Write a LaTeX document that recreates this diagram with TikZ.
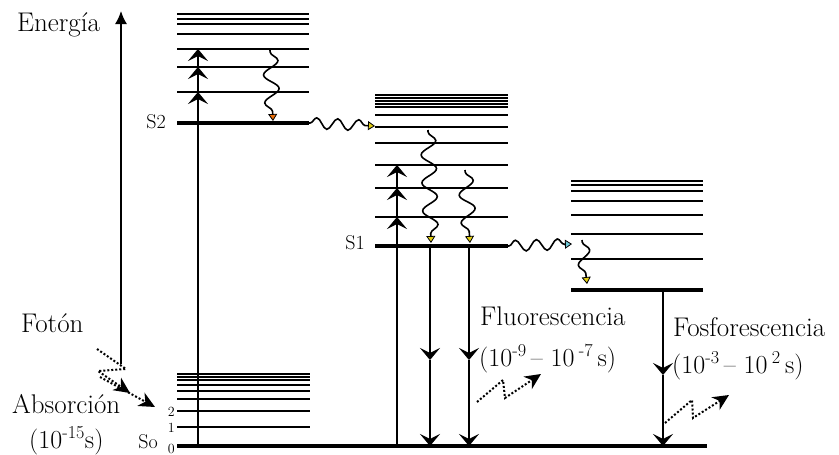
\documentclass[tikz,border=0pt]{standalone}
\usepackage{tikz}
\usetikzlibrary{arrows.meta,decorations.pathmorphing,positioning}

\definecolor{tipred}{RGB}{235,110,10}
\definecolor{tipyel}{RGB}{225,205,20}
\definecolor{tipcya}{RGB}{110,200,215}

\begin{document}
\begin{tikzpicture}[x=1pt, y=-1pt,
    lev/.style={line width=1.6pt},
    base/.style={line width=4.2pt},
    uparr/.style={line width=1.5pt, -{Stealth[length=12pt, width=20pt, inset=5pt]}},
    relax/.style={line width=1.6pt, decorate, decoration={snake, amplitude=#1, segment length=28pt, pre length=2pt, post length=5pt}},
    hop/.style={line width=1.6pt, decorate, decoration={snake, amplitude=5.5pt, segment length=21pt, pre length=1pt, post length=4pt}},
    tipc/.style={-{Triangle[length=7pt, width=9pt, line width=0.8pt, fill=#1]}},
    phot/.style={line width=2pt, dotted, -{Stealth[length=16pt, width=15pt, inset=5pt]}},
    lbl/.style={font=\fontsize{27}{31}\selectfont, inner sep=0pt},
    tlbl/.style={font=\fontsize{26}{30}\selectfont, inner sep=0pt},
    slbl/.style={font=\fontsize{20}{24}\selectfont, inner sep=0pt},
    nlbl/.style={font=\fontsize{14}{16}\selectfont, inner sep=0pt}
]
\useasboundingbox (0,0) rectangle (839,455);

% energy axis
\coordinate (eb) at (121,364);
\coordinate (et) at (121,11);
\draw[line width=1.5pt, -{Latex[length=13pt, width=12pt]}] (eb) -- (et);
\node[lbl, anchor=base west] (energia) at (17,31) {Energía};

% S0 levels
\foreach \y in {374,377,380,385,391,399,411,427}
  \draw[lev] (177,\y) -- (310,\y);
\coordinate (s0l) at (177,446);
\coordinate (s0r) at (707,446);
\draw[base] (s0l) -- (s0r);
\node[nlbl, anchor=base east] (v2) at (175,416) {2};
\node[nlbl, anchor=base east] (v1) at (175,432) {1};
\node[nlbl, anchor=base east] (v0) at (175,453) {0};
\node[slbl, anchor=base east] (so) at (158,448) {So};

% S2 levels
\foreach \y in {14,19,24,34,49,67,92}
  \draw[lev] (177,\y) -- (309,\y);
\coordinate (s2l) at (177,123);
\coordinate (s2r) at (309,123);
\draw[base] (s2l) -- (s2r);
\node[slbl, anchor=base east] (s2) at (166,128) {S2};

% S1 levels
\foreach \y in {95,98,101,104,107,115,127,143,165,188,217}
  \draw[lev] (375,\y) -- (508,\y);
\coordinate (s1l) at (375,246);
\coordinate (s1r) at (508,246);
\draw[base] (s1l) -- (s1r);
\node[slbl, anchor=base east] (s1) at (365,249) {S1};

% T1 levels
\foreach \y in {181,185,191,201,215,234,259}
  \draw[lev] (571,\y) -- (703,\y);
\coordinate (t1l) at (571,290);
\coordinate (t1r) at (703,290);
\draw[base] (t1l) -- (t1r);

% absorption into S2
\coordinate (a0) at (198,446);
\coordinate (a1) at (198,92);
\coordinate (a2) at (198,67);
\coordinate (a3) at (198,49);
\draw[uparr] (a0) -- (a1);
\draw[uparr] (a1) -- (a2);
\draw[uparr] (a2) -- (a3);

% absorption into S1
\coordinate (b0) at (397,446);
\coordinate (b1) at (397,217);
\coordinate (b2) at (397,188);
\coordinate (b3) at (397,165);
\draw[uparr] (b0) -- (b1);
\draw[uparr] (b1) -- (b2);
\draw[uparr] (b2) -- (b3);

% vibrational relaxation
\coordinate (r2a) at (270,50);
\coordinate (r2b) at (273,121);
\draw[relax=7.5pt, tipc=tipred] (r2a) -- (r2b);
\coordinate (r1a) at (428,130);
\coordinate (r1b) at (431,243);
\draw[relax=7.5pt, tipc=tipyel] (r1a) -- (r1b);
\coordinate (r3a) at (465,170);
\coordinate (r3b) at (470,243);
\draw[relax=7.5pt, tipc=tipyel] (r3a) -- (r3b);
\coordinate (rta) at (582,240);
\coordinate (rtb) at (587,284);
\draw[relax=6.5pt, tipc=tipyel] (rta) -- (rtb);

% crossings
\coordinate (ic) at (375,126);
\draw[hop, tipc=tipyel] (s2r) -- (ic);
\coordinate (isc) at (572,244);
\draw[hop, tipc=tipcya] (s1r) -- (isc);

% fluorescence
\coordinate (f1a) at (430,246);
\coordinate (f1m) at (430,360);
\coordinate (f1b) at (430,446);
\draw[uparr] (f1a) -- (f1m);
\draw[uparr] (f1m) -- (f1b);
\coordinate (f2a) at (469,246);
\coordinate (f2m) at (469,360);
\coordinate (f2b) at (469,446);
\draw[uparr] (f2a) -- (f2m);
\draw[uparr] (f2m) -- (f2b);
\node[lbl, anchor=base west] (fluo) at (480,325) {Fluorescencia};
\node[tlbl, anchor=base west] (fluot) at (479,366) {(10\textsuperscript{-9}\,– 10\,\textsuperscript{-7}\,s)};

% phosphorescence
\coordinate (p1a) at (663,290);
\coordinate (p1m) at (663,375);
\coordinate (p1b) at (663,446);
\draw[uparr] (p1a) -- (p1m);
\draw[uparr] (p1m) -- (p1b);
\node[lbl, anchor=base west] (fosf) at (673,336) {Fosforescencia};
\node[tlbl, anchor=base west] (fosft) at (672,373) {(10\textsuperscript{-3}\,– 10\,\textsuperscript{2}\,s)};

% emitted photons
\draw[phot] (477,402) -- (503,380) -- (505,398) -- (541,374);
\draw[phot] (665,423) -- (692,400) -- (693,418) -- (729,395);

% incoming photons
\node[lbl, anchor=base west] (foton) at (21,332) {Fotón};
\draw[phot] (97,349) -- (126,369) -- (98,371) -- (130,393);
\draw[phot] (100,377) -- (155,407);
\node[lbl, anchor=base west] (absor) at (12,413) {Absorción};
\node[tlbl, anchor=base west] (absort) at (29,448) {(10\textsuperscript{-15}s)};
\end{tikzpicture}
\end{document}
